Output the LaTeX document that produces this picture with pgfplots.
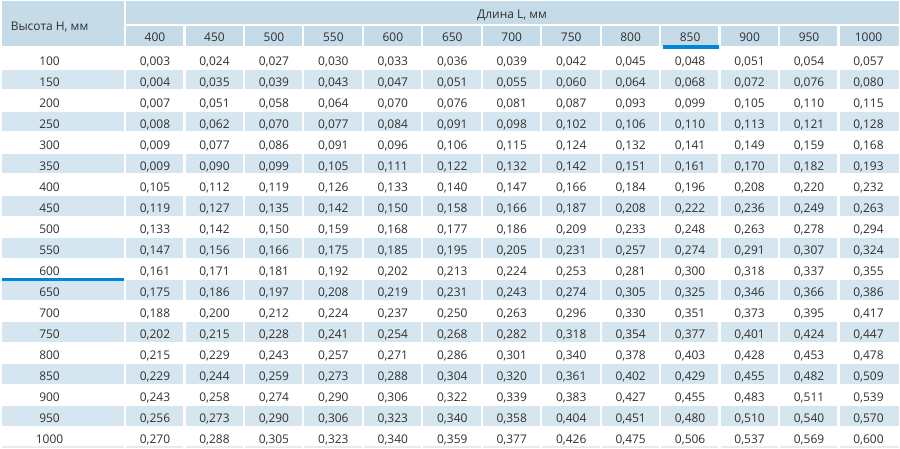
\documentclass[border=0pt]{standalone}
\usepackage{fontspec}
\setmainfont{Open Sans}
\usepackage{pgfplots}
\usepackage{pgfplotstable}
\pgfplotsset{compat=1.18}
\definecolor{hdr}{RGB}{197,219,232}
\definecolor{band}{RGB}{214,230,240}
\definecolor{txt}{RGB}{48,48,48}
\definecolor{accent}{RGB}{0,134,214}
\definecolor{faint}{RGB}{226,236,243}

\pgfplotstableread{
H c400 c450 c500 c550 c600 c650 c700 c750 c800 c850 c900 c950 c1000
100 0.003 0.024 0.027 0.030 0.033 0.036 0.039 0.042 0.045 0.048 0.051 0.054 0.057
150 0.004 0.035 0.039 0.043 0.047 0.051 0.055 0.060 0.064 0.068 0.072 0.076 0.080
200 0.007 0.051 0.058 0.064 0.070 0.076 0.081 0.087 0.093 0.099 0.105 0.110 0.115
250 0.008 0.062 0.070 0.077 0.084 0.091 0.098 0.102 0.106 0.110 0.113 0.121 0.128
300 0.009 0.077 0.086 0.091 0.096 0.106 0.115 0.124 0.132 0.141 0.149 0.159 0.168
350 0.009 0.090 0.099 0.105 0.111 0.122 0.132 0.142 0.151 0.161 0.170 0.182 0.193
400 0.105 0.112 0.119 0.126 0.133 0.140 0.147 0.166 0.184 0.196 0.208 0.220 0.232
450 0.119 0.127 0.135 0.142 0.150 0.158 0.166 0.187 0.208 0.222 0.236 0.249 0.263
500 0.133 0.142 0.150 0.159 0.168 0.177 0.186 0.209 0.233 0.248 0.263 0.278 0.294
550 0.147 0.156 0.166 0.175 0.185 0.195 0.205 0.231 0.257 0.274 0.291 0.307 0.324
600 0.161 0.171 0.181 0.192 0.202 0.213 0.224 0.253 0.281 0.300 0.318 0.337 0.355
650 0.175 0.186 0.197 0.208 0.219 0.231 0.243 0.274 0.305 0.325 0.346 0.366 0.386
700 0.188 0.200 0.212 0.224 0.237 0.250 0.263 0.296 0.330 0.351 0.373 0.395 0.417
750 0.202 0.215 0.228 0.241 0.254 0.268 0.282 0.318 0.354 0.377 0.401 0.424 0.447
800 0.215 0.229 0.243 0.257 0.271 0.286 0.301 0.340 0.378 0.403 0.428 0.453 0.478
850 0.229 0.244 0.259 0.273 0.288 0.304 0.320 0.361 0.402 0.429 0.455 0.482 0.509
900 0.243 0.258 0.274 0.290 0.306 0.322 0.339 0.383 0.427 0.455 0.483 0.511 0.539
950 0.256 0.273 0.290 0.306 0.323 0.340 0.358 0.404 0.451 0.480 0.510 0.540 0.570
1000 0.270 0.288 0.305 0.323 0.340 0.359 0.377 0.426 0.475 0.506 0.537 0.569 0.600
}\datatable

\pgfplotstableread{
L Y
400 40.3
450 40.3
500 40.3
550 40.3
600 40.3
650 40.3
700 40.3
750 40.3
800 40.3
850 40.3
900 40.3
950 40.3
1000 40.3
}\Ltable

\newcommand{\tabfont}{\fontsize{12}{14}\selectfont}

\begin{document}
\begin{tikzpicture}
\begin{axis}[
  width=900pt, height=448pt, scale only axis,
  xmin=0, xmax=900, ymin=0, ymax=448, y dir=reverse,
  hide axis, clip=false,
  /pgf/number format/assume math mode=true,
  every node near coord/.append style={anchor=base, font=\tabfont, text=txt, inner sep=0pt},
]
% header background
\fill[hdr] (axis cs:0,0) rectangle (axis cs:900,45.5);
% shaded rows
\pgfplotsinvokeforeach{1,3,5,7,9,11,13,15,17}{
  \fill[band] (axis cs:0,{47.8+21.11*#1}) rectangle (axis cs:900,{67.4+21.11*#1});
}
% faint bottom rule
\fill[faint] (axis cs:0,446.8) rectangle (axis cs:900,448);
% white gaps
\draw[white, line width=2.2pt] (axis cs:123.7,0) -- (axis cs:123.7,448);
\draw[white, line width=2.4pt] (axis cs:124,23.8) -- (axis cs:900,23.8);
\pgfplotsinvokeforeach{1,...,12}{
  \draw[white, line width=2.2pt] (axis cs:{123.7+59.65*#1},23.8) -- (axis cs:{123.7+59.65*#1},448);
}
% accent lines
\draw[accent, line width=3.5pt] (axis cs:663.3,46.2) -- (axis cs:720,46.2);
\draw[accent, line width=3.4pt] (axis cs:0,279) -- (axis cs:122.7,279);

% header titles
\node[anchor=base, font=\tabfont, text=txt, inner sep=0pt] at (axis cs:48,29.3) {Высота Н, мм};
\node[anchor=base, font=\tabfont, text=txt, inner sep=0pt] at (axis cs:512,17) {Длина L, мм};

% column headers
\addplot[draw=none, mark=none, point meta=explicit,
  nodes near coords={\pgfmathprintnumber[fixed, precision=0, 1000 sep={}]{\pgfplotspointmeta}}]
  table[x expr={153.8+59.65*(\thisrow{L}-400)/50}, y=Y, meta=L] {\Ltable};

% row headers
\addplot[draw=none, mark=none, point meta=explicit,
  nodes near coords={\pgfmathprintnumber[fixed, precision=0, 1000 sep={}]{\pgfplotspointmeta}}]
  table[x expr=48, y expr={64.3+21.11*(\thisrow{H}-100)/50}, meta=H] {\datatable};

% values
\pgfplotsinvokeforeach{400,450,500,550,600,650,700,750,800,850,900,950,1000}{
\addplot[draw=none, mark=none, point meta=explicit,
  nodes near coords={\pgfmathprintnumber[fixed, fixed zerofill, precision=3, use comma]{\pgfplotspointmeta}}]
  table[x expr={153.8+59.65*(#1-400)/50}, y expr={64.3+21.11*(\thisrow{H}-100)/50}, meta=c#1] {\datatable};
}
\end{axis}
\end{tikzpicture}
\end{document}
